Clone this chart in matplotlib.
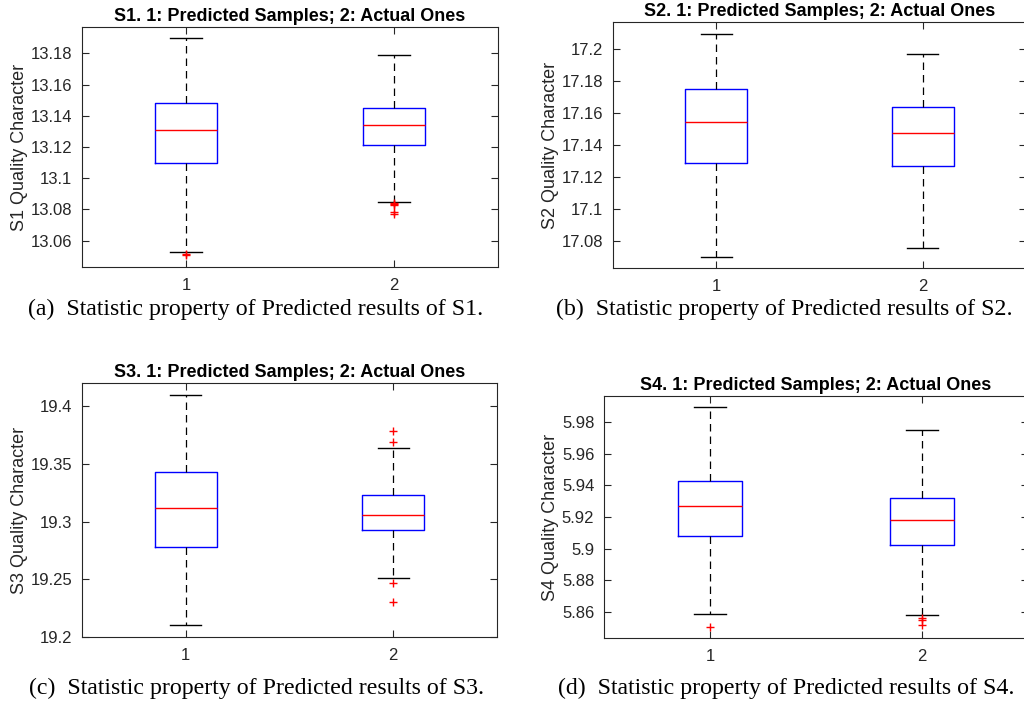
"""
Boxplots of predicted vs actual quality character for S1..S4
(MATLAB style: blue boxes, red medians, dashed whiskers, red + outliers)
"""

import matplotlib
matplotlib.use("Agg")
import matplotlib.pyplot as plt

plt.rcParams["font.family"] = ["Liberation Sans", "DejaVu Sans"]

# x categories
groups = [1, 2]

# per-panel box statistics: [predicted, actual]
s1_q1 = [13.110, 13.121]
s1_med = [13.131, 13.134]
s1_q3 = [13.1485, 13.145]
s1_lo = [13.0525, 13.085]
s1_hi = [13.190, 13.179]
s1_out = [[13.0515, 13.0508], [13.0838, 13.0832, 13.0826, 13.0785, 13.0768]]

s2_q1 = [17.129, 17.127]
s2_med = [17.1542, 17.1477]
s2_q3 = [17.1753, 17.1638]
s2_lo = [17.0696, 17.0758]
s2_hi = [17.2098, 17.1969]
s2_out = [[], []]

s3_q1 = [19.278, 19.293]
s3_med = [19.3113, 19.306]
s3_q3 = [19.343, 19.3226]
s3_lo = [19.210, 19.251]
s3_hi = [19.410, 19.364]
s3_out = [[], [19.378, 19.369, 19.2468, 19.2307]]

s4_q1 = [5.908, 5.902]
s4_med = [5.9268, 5.918]
s4_q3 = [5.943, 5.932]
s4_lo = [5.8585, 5.858]
s4_hi = [5.9899, 5.975]
s4_out = [[5.8501], [5.8562, 5.8547, 5.8514]]

s1_ticks = [13.06, 13.08, 13.1, 13.12, 13.14, 13.16, 13.18]
s2_ticks = [17.08, 17.1, 17.12, 17.14, 17.16, 17.18, 17.2]
s3_ticks = [19.2, 19.25, 19.3, 19.35, 19.4]
s4_ticks = [5.86, 5.88, 5.9, 5.92, 5.94, 5.96, 5.98]

titles = ["S1. 1: Predicted Samples; 2: Actual Ones",
          "S2. 1: Predicted Samples; 2: Actual Ones",
          "S3. 1: Predicted Samples; 2: Actual Ones",
          "S4. 1: Predicted Samples; 2: Actual Ones"]
ylabels = ["S1 Quality Character", "S2 Quality Character",
           "S3 Quality Character", "S4 Quality Character"]
captions = ["(a)  Statistic property of Predicted results of S1.",
            "(b)  Statistic property of Predicted results of S2.",
            "(c)  Statistic property of Predicted results of S3.",
            "(d)  Statistic property of Predicted results of S4."]

W, H = 1024, 705
fig = plt.figure(figsize=(W / 100, H / 100), dpi=100)


def px_axes(left, right, top, bottom):
    return fig.add_axes([left / W, 1 - bottom / H, (right - left) / W, (bottom - top) / H])


def draw_panel(ax, q1, med, q3, lo, hi, out, ylim, ticks, title, ylabel):
    stats = []
    for i in range(len(groups)):
        stats.append({"q1": q1[i], "med": med[i], "q3": q3[i],
                      "whislo": lo[i], "whishi": hi[i], "fliers": out[i]})
    ax.bxp(stats, positions=groups, widths=0.3, capwidths=0.15,
           boxprops=dict(color="blue", linewidth=1.0),
           medianprops=dict(color="red", linewidth=1.0),
           whiskerprops=dict(color="black", linestyle=(0, (6, 4)), linewidth=0.9),
           capprops=dict(color="black", linewidth=1.0),
           flierprops=dict(marker="+", markeredgecolor="red", markersize=6,
                           markeredgewidth=1.0, linestyle="none"))
    ax.set_xlim(0.5, 2.5)
    ax.set_ylim(*ylim)
    ax.set_xticks(groups)
    ax.set_xticklabels([str(g) for g in groups])
    ax.set_yticks(ticks)
    ax.set_yticklabels([("%.2f" % t).rstrip("0").rstrip(".") for t in ticks])
    ax.tick_params(direction="in", length=5, width=0.8, colors="#262626",
                   labelsize=12, top=True, right=True)
    ax.tick_params(axis="x", pad=8)
    ax.tick_params(axis="y", pad=7)
    for sp in ax.spines.values():
        sp.set_color("#262626")
        sp.set_linewidth(0.8)
    ax.set_title(title, fontsize=13, fontweight="bold", pad=4)
    ax.set_ylabel(ylabel, fontsize=13, color="#262626", labelpad=2)


ax1 = px_axes(82, 498, 27, 267)
draw_panel(ax1, s1_q1, s1_med, s1_q3, s1_lo, s1_hi, s1_out, (13.043, 13.197),
           s1_ticks, titles[0], ylabels[0])

ax2 = px_axes(613, 1026, 22, 268)
draw_panel(ax2, s2_q1, s2_med, s2_q3, s2_lo, s2_hi, s2_out, (17.063, 17.217),
           s2_ticks, titles[1], ylabels[1])

ax3 = px_axes(82, 497, 383, 637)
draw_panel(ax3, s3_q1, s3_med, s3_q3, s3_lo, s3_hi, s3_out, (19.2, 19.42),
           s3_ticks, titles[2], ylabels[2])

ax4 = px_axes(604, 1028, 396, 638)
draw_panel(ax4, s4_q1, s4_med, s4_q3, s4_lo, s4_hi, s4_out, (5.8433, 5.9967),
           s4_ticks, titles[3], ylabels[3])

cap_pos = [(256, 309), (784, 309), (257, 688), (786, 688)]
for (cx, cy), txt in zip(cap_pos, captions):
    fig.text(cx / W, 1 - cy / H, txt, ha="center", va="center",
             fontsize=17.2, family="Liberation Serif")

fig.savefig("out.png", dpi=100)
